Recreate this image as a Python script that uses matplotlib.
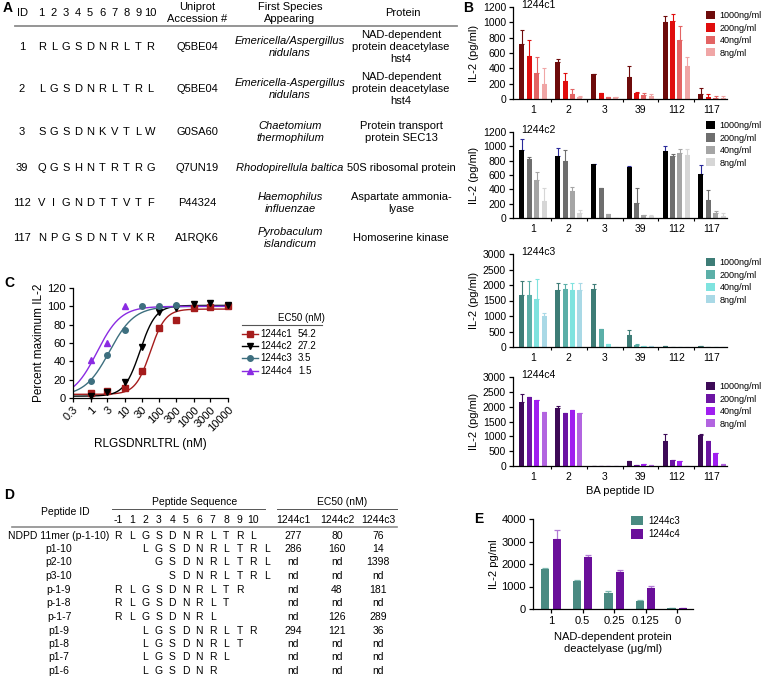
import numpy as np
import matplotlib
matplotlib.use('Agg')
import matplotlib.pyplot as plt
from matplotlib.patches import Patch
from matplotlib.lines import Line2D

plt.rcParams['font.family'] = ['Liberation Sans', 'DejaVu Sans']
plt.rcParams['axes.linewidth'] = 0.9
plt.rcParams['xtick.major.width'] = 0.9
plt.rcParams['ytick.major.width'] = 0.9
plt.rcParams['xtick.major.size'] = 3
plt.rcParams['ytick.major.size'] = 3

W, H = 762, 677

# ---------------- data ----------------
# Panel A
a_ids = ['1', '2', '3', '39', '112', '117']
a_seqs = ['RLGSDNRLTR', 'LGSDNRLTRL', 'SGSDNKVTLW', 'QGSHNTRTRG', 'VIGNDTTVTF', 'NPGSDNTVKR']
a_acc = ['Q5BE04', 'Q5BE04', 'G0SA60', 'Q7UN19', 'P44324', 'A1RQK6']
a_species = ['Emericella/Aspergillus\nnidulans', 'Emericella-Aspergillus\nnidulans',
             'Chaetomium\nthermophilum', 'Rhodopirellula baltica',
             'Haemophilus\ninfluenzae', 'Pyrobaculum\nislandicum']
a_protein = ['NAD-dependent\nprotein deacetylase\nhst4', 'NAD-dependent\nprotein deacetylase\nhst4',
             'Protein transport\nprotein SEC13', '50S ribosomal protein',
             'Aspartate ammonia-\nlyase', 'Homoserine kinase']

# Panel B
b_groups = ['1', '2', '3', '39', '112', '117']
b_conc = ['1000ng/ml', '200ng/ml', '40ng/ml', '8ng/ml']
c1_vals = [[720, 485, 320, 285, 1010, 65],
           [560, 235, 75, 80, 1020, 25],
           [340, 65, 25, 50, 775, 15],
           [200, 20, 20, 40, 425, 15]]
c1_errs = [[180, 35, 5, 145, 70, 80],
           [210, 110, 5, 5, 90, 35],
           [210, 65, 3, 25, 180, 20],
           [200, 15, 3, 30, 125, 20]]
c2_vals = [[955, 865, 760, 705, 940, 610],
           [820, 800, 415, 205, 870, 245],
           [530, 375, 50, 35, 905, 65],
           [235, 70, 5, 30, 880, 30]]
c2_errs = [[150, 110, 0, 15, 60, 135],
           [25, 150, 0, 210, 20, 150],
           [110, 60, 0, 10, 60, 35],
           [185, 35, 0, 15, 80, 40]]
c3_vals = [[1690, 1850, 1860, 400, 20, 20],
           [1690, 1860, 590, 70, 15, 15],
           [1540, 1830, 110, 30, 10, 10],
           [1010, 1830, 0, 20, 10, 10]]
c3_errs = [[440, 200, 180, 160, 0, 0],
           [440, 180, 0, 20, 0, 0],
           [640, 230, 0, 0, 0, 0],
           [90, 250, 0, 0, 0, 0]]
c4_vals = [[2170, 1970, 5, 170, 830, 1060],
           [2310, 1770, 5, 50, 190, 840],
           [2210, 1900, 5, 60, 170, 440],
           [1820, 1770, 5, 40, 10, 80]]
c4_errs = [[260, 40, 0, 0, 250, 10],
           [0, 0, 0, 0, 0, 0],
           [0, 0, 0, 0, 0, 0],
           [0, 0, 0, 0, 0, 0]]

# Panel C
c_names = ['1244c1', '1244c2', '1244c3', '1244c4']
c_ec50_txt = ['54.2', '27.2', '3.5', '1.5']
c_x1 = [1, 3, 10, 30, 100, 300, 1000, 3000, 10000]
c_y1 = [5, 8, 11, 30, 76, 85, 98, 99, 100]
c_x2 = [1, 3, 10, 30, 100, 300, 1000, 3000, 10000]
c_y2 = [2, 7, 17, 56, 94, 98, 103, 104, 101]
c_x3 = [1, 3, 10, 30, 100, 300]
c_y3 = [19, 47, 74, 100, 100, 101]
c_x4 = [1, 3, 10]
c_y4 = [42, 60, 100]
# fitted dose-response parameters (EC50, bottom, top, Hill slope)
c_ec50 = [54.2, 27.2, 3.5, 1.5]
c_bottom = [4, 2, 2, 0]
c_top = [97, 101, 100, 100]
c_hill = [2.0, 1.9, 1.2, 1.25]
c_ticks = [0.3, 1, 3, 10, 30, 100, 300, 1000, 3000, 10000]
c_ticklabels = ['0.3', '1', '3', '10', '30', '100', '300', '1000', '3000', '10000']

# Panel D
d_ids = ['NDPD 11mer (p-1-10)', 'p1-10', 'p2-10', 'p3-10', 'p-1-9', 'p-1-8', 'p-1-7',
         'p1-9', 'p1-8', 'p1-7', 'p1-6']
d_start = [-1, 1, 2, 3, -1, -1, -1, 1, 1, 1, 1]
d_seqs = ['RLGSDNRLTRL', 'LGSDNRLTRL', 'GSDNRLTRL', 'SDNRLTRL', 'RLGSDNRLTR', 'RLGSDNRLT',
          'RLGSDNRL', 'LGSDNRLTR', 'LGSDNRLT', 'LGSDNRL', 'LGSDNR']
d_c1 = ['277', '286', 'nd', 'nd', 'nd', 'nd', 'nd', '294', 'nd', 'nd', 'nd']
d_c2 = ['80', '160', 'nd', 'nd', '48', 'nd', '126', '121', 'nd', 'nd', 'nd']
d_c3 = ['76', '14', '1398', 'nd', '181', 'nd', '289', '36', 'nd', 'nd', 'nd']
d_pos = ['-1', '1', '2', '3', '4', '5', '6', '7', '8', '9', '10']

# Panel E
e_labels = ['1', '0.5', '0.25', '0.125', '0']
e_c3 = [1780, 1260, 700, 350, 30]
e_c3_err = [60, 20, 80, 30, 0]
e_c4 = [3100, 2320, 1650, 940, 40]
e_c4_err = [420, 90, 100, 100, 0]

# ---------------- figure ----------------
fig = plt.figure(figsize=(W / 100, H / 100), dpi=100)
ov = fig.add_axes([0, 0, 1, 1])
ov.set_xlim(0, W)
ov.set_ylim(H, 0)
ov.axis('off')


def fax(x0, y0, x1, y1):
    return fig.add_axes([x0 / W, 1 - y1 / H, (x1 - x0) / W, (y1 - y0) / H])


# panel letters
for s, (x, y) in zip('ABCDE', [(3, 8), (463, 8), (4, 283), (4, 495), (474, 519)]):
    ov.text(x, y, s, fontsize=10, fontweight='bold', ha='left', va='center')

# ---------------- Panel A ----------------
FA = 8
seq_x0, seq_dx = 41.7, 12.1
a_row_y = [47, 89, 132, 168, 203, 238]
ov.text(22, 13, 'ID', ha='center', va='center', fontsize=FA)
for i in range(10):
    ov.text(seq_x0 + seq_dx * i, 13, str(i + 1), ha='center', va='center', fontsize=FA)
ov.text(197, 13, 'Uniprot\nAccession #', ha='center', va='center', fontsize=FA, linespacing=1.15)
ov.text(290, 13, 'First Species\nAppearing', ha='center', va='center', fontsize=FA, linespacing=1.15)
ov.text(403, 13, 'Protein', ha='center', va='center', fontsize=FA)
ov.plot([15, 457], [26, 26], color='#8c8c8c', lw=1.3)
for r in range(len(a_ids)):
    y = a_row_y[r]
    ov.text(22, y, a_ids[r], ha='center', va='center', fontsize=FA)
    for j, ch in enumerate(a_seqs[r]):
        ov.text(seq_x0 + seq_dx * j, y, ch, ha='center', va='center', fontsize=FA)
    ov.text(197, y, a_acc[r], ha='center', va='center', fontsize=FA)
    ov.text(290, y, a_species[r], ha='center', va='center', fontsize=FA, style='italic', linespacing=1.3)
    ov.text(401, y, a_protein[r], ha='center', va='center', fontsize=FA, linespacing=1.3)

# ---------------- Panel B ----------------
b_off = [-0.31, -0.1, 0.1, 0.31]


def bar_panel(rect, vals, errs, colors, ecolors, ylim, yticks, title, leg_top, xlabel=None):
    ax = fax(*rect)
    x = np.arange(len(b_groups))
    handles = []
    for k in range(4):
        ax.bar(x + b_off[k], vals[k], width=0.14, color=colors[k], zorder=2)
        ax.errorbar(x + b_off[k], vals[k], yerr=[np.zeros(len(x)), errs[k]], fmt='none',
                    ecolor=ecolors[k], elinewidth=0.8, capsize=1.6, capthick=0.8, zorder=1)
        handles.append(Patch(facecolor=colors[k], edgecolor='none'))
    ax.set_xlim(-0.56, 5.42)
    ax.set_ylim(*ylim)
    ax.set_yticks(yticks)
    ax.set_xticks(x)
    ax.set_xticklabels(b_groups)
    ax.tick_params(axis='x', length=0, labelsize=7.5, pad=4)
    ax.set_xticks(x[:-1] + 0.5, minor=True)
    ax.tick_params(axis='x', which='minor', length=2.5, width=0.8)
    ax.tick_params(axis='y', labelsize=7.5, pad=2)
    for sp in ['top', 'right']:
        ax.spines[sp].set_visible(False)
    ax.set_ylabel('IL-2 (pg/ml)', fontsize=8, labelpad=3)
    ax.text(0.04, 1.02, title, transform=ax.transAxes, fontsize=7.5, va='center', ha='left')
    if xlabel:
        ax.set_xlabel(xlabel, fontsize=8, labelpad=3)
    ax.legend(handles, b_conc, loc='upper left', bbox_to_anchor=(706 / W, 1 - leg_top / H),
              bbox_transform=fig.transFigure, frameon=False, fontsize=6.5, handlelength=1.0,
              handleheight=1.0, labelspacing=0.37, borderpad=0, borderaxespad=0,
              handletextpad=0.5)
    return ax


bar_panel((513, 7, 727, 99), c1_vals, c1_errs,
          ['#6e0b0b', '#e00d0d', '#e36464', '#f0a6a6'],
          ['#6e0b0b', '#e00d0d', '#e36464', '#f0a6a6'],
          (0, 1200), range(0, 1201, 200), '1244c1', 11)
bar_panel((513, 132, 727, 218), c2_vals, c2_errs,
          ['#000000', '#6e6e6e', '#a5a5a5', '#d6d6d6'],
          ['#2a2a9a', '#6e6e6e', '#a5a5a5', '#d6d6d6'],
          (0, 1200), range(0, 1201, 200), '1244c2', 121)
bar_panel((513, 254, 727, 347), c3_vals, c3_errs,
          ['#3d7c76', '#5bafa8', '#7fe3df', '#a9d9e6'],
          ['#3d7c76', '#5bafa8', '#7fe3df', '#a9d9e6'],
          (0, 3000), range(0, 3001, 500), '1244c3', 258)
bar_panel((513, 377, 727, 466), c4_vals, c4_errs,
          ['#3d0a57', '#6c14a3', '#a01ef0', '#b264e0'],
          ['#3d0a57', '#6c14a3', '#a01ef0', '#b264e0'],
          (0, 3000), range(0, 3001, 500), '1244c4', 382, xlabel='BA peptide ID')

# ---------------- Panel C ----------------
axc = fax(73, 288, 228, 398)
c_cols = ['#a51c1c', '#000000', '#3d6f7f', '#8a2be2']
c_marks = ['s', 'v', 'o', '^']
c_xs = [c_x1, c_x2, c_x3, c_x4]
c_ys = [c_y1, c_y2, c_y3, c_y4]
xx = np.logspace(np.log10(0.3), 4, 300)
for k in range(4):
    yy = c_bottom[k] + (c_top[k] - c_bottom[k]) / (1 + (c_ec50[k] / xx) ** c_hill[k])
    axc.plot(xx, yy, color=c_cols[k], lw=1.0, zorder=2)
    axc.plot(c_xs[k], c_ys[k], ls='none', marker=c_marks[k], color=c_cols[k], ms=4, zorder=3,
             clip_on=False)
axc.set_xscale('log')
axc.set_xlim(0.3, 10000)
axc.set_ylim(0, 120)
axc.set_yticks(range(0, 121, 20))
axc.set_xticks(c_ticks)
axc.set_xticklabels(c_ticklabels, rotation=45, ha='right', rotation_mode='anchor')
axc.minorticks_off()
axc.tick_params(labelsize=8, pad=2)
for sp in ['top', 'right']:
    axc.spines[sp].set_visible(False)
axc.set_ylabel('Percent maximum IL-2', fontsize=8.5, labelpad=2)
axc.set_xlabel('RLGSDNRLTRL (nM)', fontsize=8.5, labelpad=3)

# legend table for C
ov.text(278, 318, 'EC50 (nM)', fontsize=7, ha='left', va='center')
ov.plot([242, 322], [325, 325], color='#555555', lw=0.8)
c_leg_y = [334, 346, 358, 371]
for k in range(4):
    y = c_leg_y[k]
    ov.add_line(Line2D([242, 258], [y, y], color=c_cols[k], lw=1.0))
    ov.plot([250], [y], marker=c_marks[k], color=c_cols[k], ms=4)
    ov.text(260, y, c_names[k], fontsize=7, ha='left', va='center')
    ov.text(298, y, c_ec50_txt[k], fontsize=7, ha='left', va='center')

# ---------------- Panel D ----------------
FD = 7.5
pos_x0, pos_dx = 118.3, 13.5
ov.text(65, 512, 'Peptide ID', ha='center', va='center', fontsize=FD)
ov.text(195, 502, 'Peptide Sequence', ha='center', va='center', fontsize=FD)
ov.text(342, 502, 'EC50 (nM)', ha='center', va='center', fontsize=FD)
ov.plot([112, 265], [509, 509], color='#555555', lw=0.7)
ov.plot([277, 397], [509, 509], color='#555555', lw=0.7)
for k, p in enumerate(d_pos):
    ov.text(pos_x0 + pos_dx * k, 520, p, ha='center', va='center', fontsize=FD)
d_cols_x = [293, 337, 378]
for cx, lab in zip(d_cols_x, ['1244c1', '1244c2', '1244c3']):
    ov.text(cx, 520, lab, ha='center', va='center', fontsize=FD)
ov.plot([12, 397], [527, 527], color='#8c8c8c', lw=1.2)
d_row_y = [536, 549, 562, 576, 590, 603, 617, 631, 644, 657, 671]
for r in range(len(d_ids)):
    y = d_row_y[r]
    ov.text(59, y, d_ids[r], ha='center', va='center', fontsize=FD)
    k0 = d_start[r] + 1 if d_start[r] > 0 else 0
    for j, ch in enumerate(d_seqs[r]):
        ov.text(pos_x0 + pos_dx * (k0 + j), y, ch, ha='center', va='center', fontsize=FD)
    for cx, v in zip(d_cols_x, [d_c1[r], d_c2[r], d_c3[r]]):
        ov.text(cx, y, v, ha='center', va='center', fontsize=FD)

# ---------------- Panel E ----------------
axe = fax(533, 519, 693, 609)
xe = np.arange(len(e_labels))
e_colors = ['#4a8a82', '#6a0f9a']
e_ecolors = ['#7fb8b0', '#b27ad6']
axe.bar(xe - 0.18, e_c3, width=0.26, color=e_colors[0], zorder=2)
axe.errorbar(xe - 0.18, e_c3, yerr=[np.zeros(5), e_c3_err], fmt='none', ecolor=e_ecolors[0],
             elinewidth=0.9, capsize=2, capthick=0.9, zorder=1)
axe.bar(xe + 0.18, e_c4, width=0.26, color=e_colors[1], zorder=2)
axe.errorbar(xe + 0.18, e_c4, yerr=[np.zeros(5), e_c4_err], fmt='none', ecolor=e_ecolors[1],
             elinewidth=0.9, capsize=2, capthick=0.9, zorder=1)
axe.set_xlim(-0.57, 4.5)
axe.set_ylim(0, 4000)
axe.set_yticks(range(0, 4001, 1000))
axe.set_xticks(xe)
axe.set_xticklabels(e_labels)
axe.tick_params(labelsize=8, pad=2)
axe.tick_params(axis='x', length=3)
for sp in ['top', 'right']:
    axe.spines[sp].set_visible(False)
axe.set_ylabel('IL-2 pg/ml', fontsize=8, labelpad=2)
axe.set_xlabel('NAD-dependent protein\ndeactelyase (\u03bcg/ml)', fontsize=8, labelpad=4,
               linespacing=1.3)
axe.legend([Patch(facecolor=e_colors[0]), Patch(facecolor=e_colors[1])], ['1244c3', '1244c4'],
           loc='upper left', bbox_to_anchor=(631 / W, 1 - 516 / H), bbox_transform=fig.transFigure,
           frameon=False, fontsize=7, handlelength=1.2, handleheight=1.1, labelspacing=0.35,
           borderpad=0, borderaxespad=0, handletextpad=0.6)

fig.savefig('out.png', dpi=100)
